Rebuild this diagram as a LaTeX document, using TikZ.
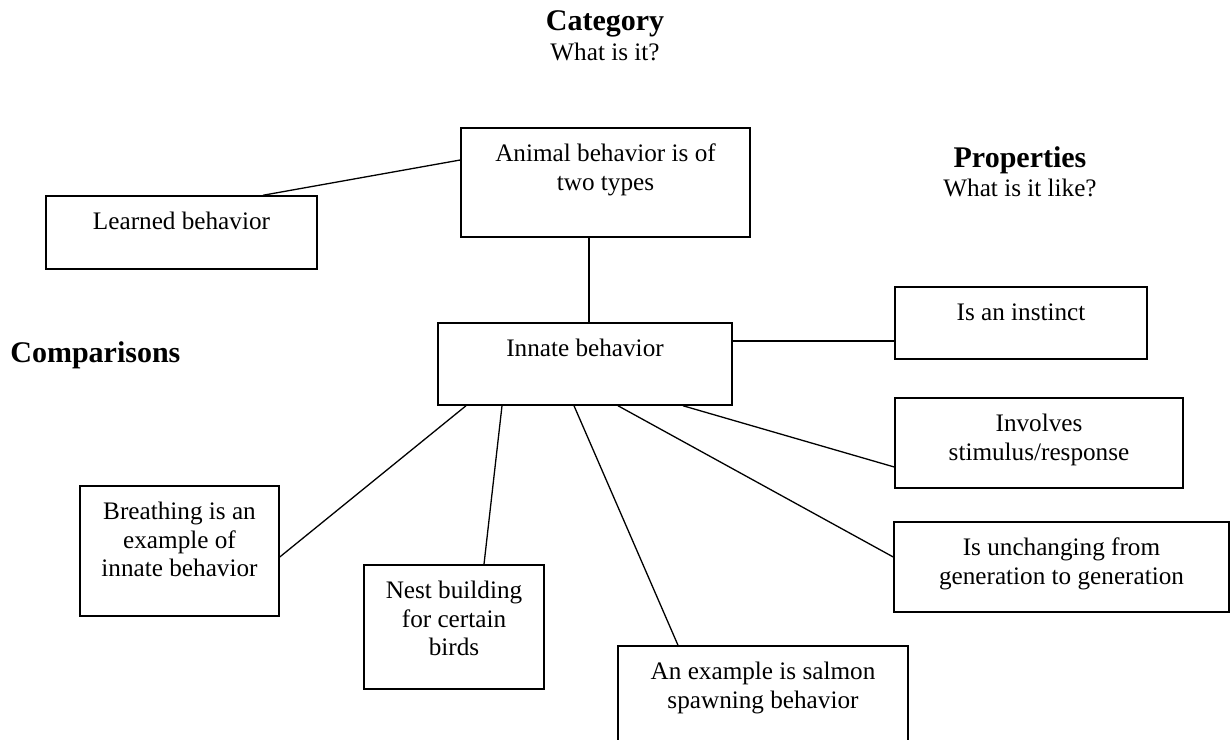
\documentclass[tikz,border=0pt]{standalone}
\usepackage{fontspec}
\setmainfont{Liberation Serif}
\begin{document}
\begin{tikzpicture}[x=0.5pt,y=-0.5pt,
  box/.style={draw, line width=0.75pt, inner sep=0pt, rectangle},
  txt/.style={anchor=north, inner sep=0pt, align=center, font=\fontsize{12.6pt}{14.3pt}\selectfont},
  head/.style={anchor=base, inner sep=0pt, font=\bfseries\fontsize{15pt}{18pt}\selectfont},
  sub/.style={anchor=base, inner sep=0pt, font=\fontsize{12.6pt}{14.3pt}\selectfont},
  link/.style={line width=0.65pt}]
\clip (0,0) rectangle (1231,739);
\fill[white] (0,0) rectangle (1231,739);

% headings
\node[head] (cat) at (605,31) {Category};
\node[sub] (catq) at (605,61) {What is it?};
\node[head] (prop) at (1020,167) {Properties};
\node[sub] (propq) at (1020,196) {What is it like?};
\node[head, anchor=base west] (comp) at (10,362) {Comparisons};

% boxes
\node[box, minimum width=144.5pt, minimum height=54.5pt] (animal) at (605.5,182.5) {};
\node[box, minimum width=135.5pt, minimum height=36.5pt] (learned) at (181.5,232.5) {};
\node[box, minimum width=147pt, minimum height=41pt] (innate) at (585,364) {};
\node[box, minimum width=126pt, minimum height=36pt] (instinct) at (1021,323) {};
\node[box, minimum width=144pt, minimum height=45pt] (involves) at (1039,443) {};
\node[box, minimum width=99.5pt, minimum height=65pt] (breathing) at (179.5,551) {};
\node[box, minimum width=90pt, minimum height=62pt] (nest) at (454,627) {};
\node[box, minimum width=167.5pt, minimum height=45pt] (unchanging) at (1061.5,567) {};
\node[box, minimum width=145pt, minimum height=60pt] (salmon) at (763,706) {};

% box texts
\node[txt] (animal-t) at ([yshift=-7pt]animal.north) {\strut Animal behavior is of\\two types};
\node[txt] (learned-t) at ([yshift=-7pt]learned.north) {\strut Learned behavior};
\node[txt] (innate-t) at ([yshift=-7pt]innate.north) {\strut Innate behavior};
\node[txt] (instinct-t) at ([yshift=-7pt]instinct.north) {\strut Is an instinct};
\node[txt] (involves-t) at ([yshift=-7pt]involves.north) {\strut Involves\\stimulus/response};
\node[txt] (breathing-t) at ([yshift=-7pt]breathing.north) {\strut Breathing is an\\example of\\innate behavior};
\node[txt] (nest-t) at ([yshift=-7pt]nest.north) {\strut Nest building\\for certain\\birds};
\node[txt] (unchanging-t) at ([yshift=-7pt]unchanging.north) {\strut Is unchanging from\\generation to generation};
\node[txt] (salmon-t) at ([yshift=-7pt]salmon.north) {\strut An example is salmon\\spawning behavior};

% connectors
\draw[link] ([xshift=40.75pt]learned.north) -- ([yshift=11.25pt]animal.west);
\draw[link] ([xshift=2pt]innate.north) -- ([xshift=2pt]innate.north |- animal.south);
\draw[link] ([yshift=11.5pt]innate.east) -- ([yshift=11.5pt]innate.east -| instinct.west);
\draw[link] ([xshift=49pt]innate.south) -- ([yshift=-12pt]involves.west);
\draw[link] ([xshift=16.5pt]innate.south) -- ([yshift=5pt]unchanging.west);
\draw[link] ([xshift=-5.5pt]innate.south) -- ([xshift=-42.5pt]salmon.north);
\draw[link] ([xshift=-41.5pt]innate.south) -- ([xshift=15pt]nest.north);
\draw[link] ([xshift=-59.5pt]innate.south) -- ([yshift=-3pt]breathing.east);
\end{tikzpicture}
\end{document}
